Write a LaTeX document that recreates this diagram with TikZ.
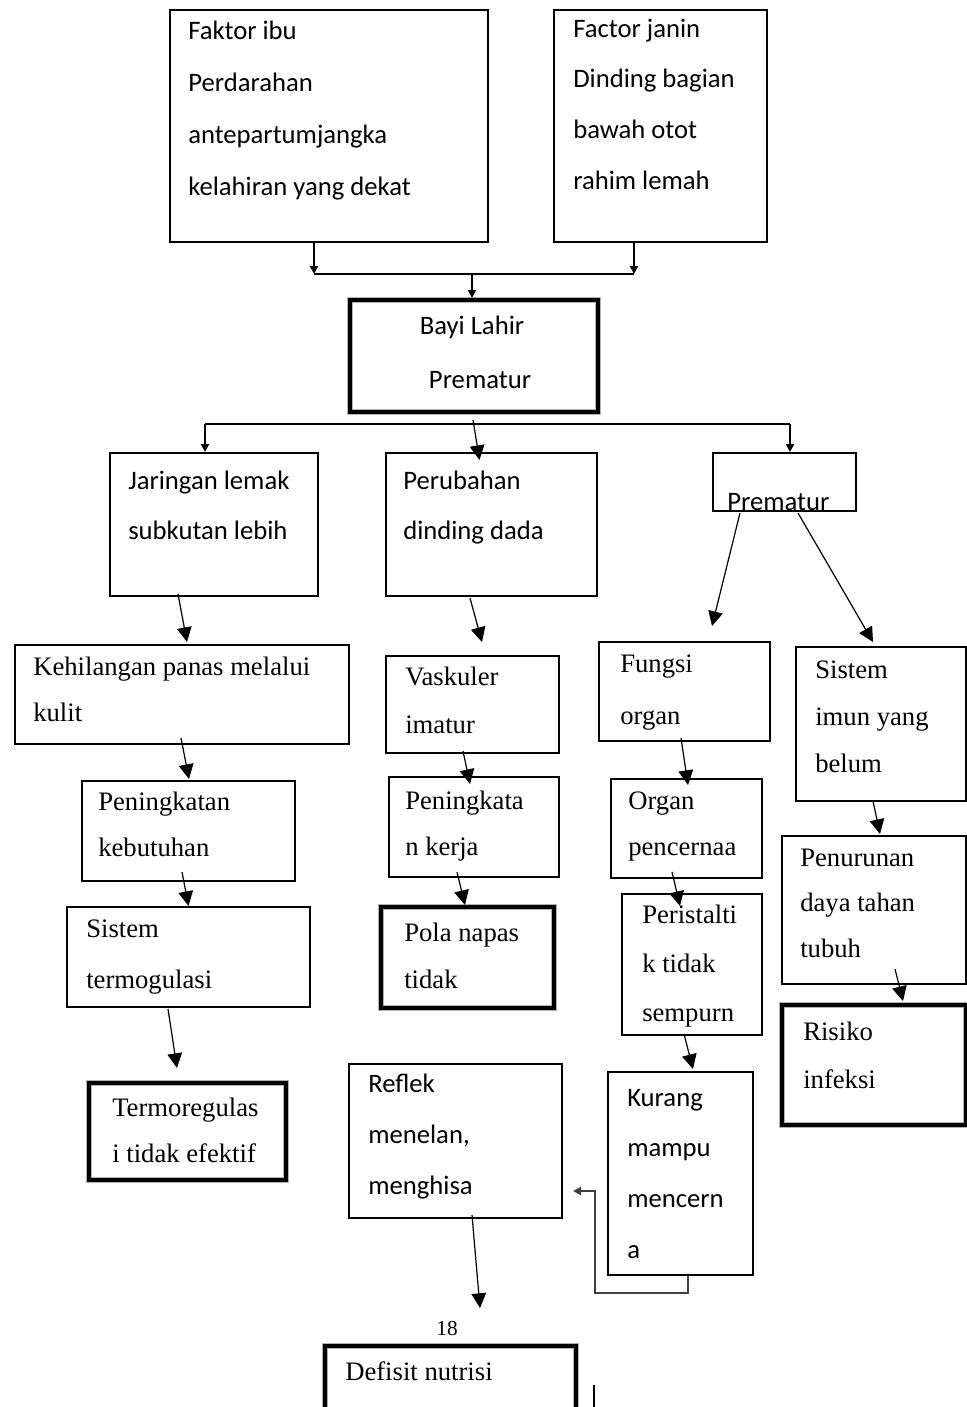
\documentclass[tikz,border=0pt]{standalone}
\usepackage{fontspec}
\setmainfont{Liberation Serif}
\setsansfont{Carlito}
\usetikzlibrary{arrows.meta, calc}
\newcommand{\jarak}[1]{\fontsize{20}{#1}\selectfont}
\tikzset{
  ukuran/.style 2 args={minimum width=#1*0.75pt, minimum height=#2*0.75pt},
  kotak/.style={draw, line width=1.5pt, inner sep=0pt},
  kotaktebal/.style={draw, line width=3pt, inner sep=0pt, preaction={draw=black!30, line width=5pt}},
  tulis/.style={anchor=base west, align=left, inner sep=0pt},
  sans/.style={tulis, font=\sffamily\jarak{38}},
  serif/.style={tulis, font=\rmfamily\jarak{35}},
  panah/.style={line width=0.9pt, -{Triangle[length=11pt,width=11pt]}},
  panahkecil/.style={line width=1.5pt, -{Triangle[length=6pt,width=6pt]}}
}

\begin{document}
\begin{tikzpicture}[x=0.75pt, y=-0.75pt]
\useasboundingbox (0,0) rectangle (967,1407);
\clip (0,0) rectangle (967,1407);

% kotak
\node[kotak, ukuran={318}{232}] (ibu) at (329,126) {};
\node[kotak, ukuran={213}{232}] (janin) at (660.5,126) {};
\node[kotaktebal, ukuran={248}{112}] (bayi) at (474,356) {};
\node[kotak, ukuran={208}{143}] (jaringan) at (214,524.5) {};
\node[kotak, ukuran={211}{143}] (perubahan) at (491.5,524.5) {};
\node[kotak, ukuran={143}{58}] (prem) at (784.5,482) {};
\node[kotak, ukuran={334}{99}] (kehilangan) at (182,694.5) {};
\node[kotak, ukuran={173}{97}] (vaskuler) at (472.5,704.5) {};
\node[kotak, ukuran={171}{99}] (fungsi) at (684.5,691.5) {};
\node[kotak, ukuran={170}{154}] (imun) at (881,724) {};
\node[kotak, ukuran={213}{100}] (kebutuhan) at (188.5,831) {};
\node[kotak, ukuran={170}{100}] (kerja) at (474,827) {};
\node[kotak, ukuran={151}{99}] (organ) at (686.5,828.5) {};
\node[kotak, ukuran={184}{148}] (turun) at (874,910) {};
\node[kotak, ukuran={243}{100}] (termo) at (188.5,957) {};
\node[kotaktebal, ukuran={173}{101}] (pola) at (467.5,957.5) {};
\node[kotak, ukuran={140}{141}] (peris) at (692,964.5) {};
\node[kotaktebal, ukuran={184}{120}] (risiko) at (874,1065) {};
\node[kotaktebal, ukuran={197}{97}] (efektif) at (187.5,1131.5) {};
\node[kotak, ukuran={213}{154}] (reflek) at (455.5,1141) {};
\node[kotak, ukuran={145}{203}] (kurang) at (680.5,1173.5) {};
\node[kotaktebal, ukuran={251}{74}] (defisit) at (450.5,1383) {};

% isi (base = baris terakhir)
\node[sans, font=\sffamily\jarak{39}] (ibuteks) at (188,195) {Faktor ibu\\Perdarahan\\antepartumjangka\\kelahiran yang dekat};
\node[sans] (janinteks) at (573,189) {Factor janin\\Dinding bagian\\bawah otot\\rahim lemah};
\node[sans, anchor=base, align=center, font=\sffamily\jarak{40.5}] (bayiteks) at (472,388) {Bayi Lahir\\\hspace*{12pt}Prematur};
\node[sans, font=\sffamily\jarak{37.5}] (jaringanteks) at (128,539) {Jaringan lemak\\subkutan lebih};
\node[sans, font=\sffamily\jarak{37.5}] (perubahanteks) at (403,539) {Perubahan\\dinding dada};
\node[sans] (premteks) at (727,510) {Prematur};
\node[serif, font=\rmfamily\jarak{34}] (kehilanganteks) at (33,721) {Kehilangan panas melalui\\kulit};
\node[serif, font=\rmfamily\jarak{36}] (vaskulerteks) at (405,733) {Vaskuler\\imatur};
\node[serif, font=\rmfamily\jarak{39}] (fungsiteks) at (620,724) {Fungsi\\organ};
\node[serif] (imunteks) at (815,772) {Sistem\\imun yang\\belum};
\node[serif, font=\rmfamily\jarak{34}] (kebutuhanteks) at (98,856) {Peningkatan\\kebutuhan};
\node[serif, font=\rmfamily\jarak{34.5}] (kerjateks) at (405,855) {Peningkata\\n kerja};
\node[serif, font=\rmfamily\jarak{34.5}] (organteks) at (628,855) {Organ\\pencernaa};
\node[serif, font=\rmfamily\jarak{34}] (turunteks) at (800,957) {Penurunan\\daya tahan\\tubuh};
\node[serif, font=\rmfamily\jarak{38}] (termoteks) at (86,988) {Sistem\\termogulasi};
\node[serif] (polateks) at (404,988) {Pola napas\\tidak};
\node[serif, font=\rmfamily\jarak{36.5}] (peristeks) at (642,1021) {Peristalti\\k tidak\\sempurn};
\node[serif, font=\rmfamily\jarak{36}] (risikoteks) at (803,1088) {Risiko\\infeksi};
\node[serif, font=\rmfamily\jarak{34}] (efektifteks) at (112,1162) {Termoregulas\\i tidak efektif};
\node[sans] (reflekteks) at (368,1194) {Reflek\\menelan,\\menghisa};
\node[sans] (kurangteks) at (627,1258) {Kurang\\mampu\\mencern\\a};
\node[serif] (defisitteks) at (345,1380) {Defisit nutrisi};
\node[font=\rmfamily\fontsize{16}{16}\selectfont, inner sep=0pt] (halaman) at (447,1328) {18};

% sambungan atas
\coordinate (kiri) at (314,274);
\coordinate (kanan) at (634,274);
\coordinate (tengah) at (472,274);
\draw[panahkecil] (ibu.south -| kiri) -- (kiri);
\draw[panahkecil] (janin.south -| kanan) -- (kanan);
\draw[line width=1.5pt] (kiri) -- (kanan);
\draw[panahkecil] (tengah) -- (tengah |- bayi.north);

\coordinate (cabkiri) at (205,424);
\coordinate (cabkanan) at (790,424);
\draw[line width=1.5pt] (cabkiri) -- (cabkanan);
\draw[panahkecil] (cabkiri) -- (cabkiri |- jaringan.north);
\draw[panahkecil] (cabkanan) -- (cabkanan |- prem.north);
\draw[panah] ($(bayi.south)+(-1,6)$) -- ($(perubahan.north)+(-12,8)$);

% kolom kiri
\draw[panah] ($(jaringan.south)+(-36,-3)$) -- ($(kehilangan.north)+(5,-2)$);
\draw[panah] ($(kehilangan.south)+(-1,-7)$) -- ($(kebutuhan.north)+(0.5,-1)$);
\draw[panah] ($(kebutuhan.south)+(-6.5,-10)$) -- (termo.north);
\draw[panah] ($(termo.south)+(-20.5,1)$) -- ($(efektif.north)+(-10.5,-13)$);

% kolom tengah
\draw[panah] ($(perubahan.south)+(-21.5,1)$) -- ($(vaskuler.north)+(9.5,-13)$);
\draw[panah] ($(vaskuler.south)+(-9.5,-3)$) -- ($(kerja.north)+(-4,8)$);
\draw[panah] ($(kerja.south)+(-17,-6)$) -- ($(pola.north)+(-2.5,0)$);

% kolom kanan
\draw[panah] ($(prem.south)+(-44.5,1)$) -- ($(fungsi.north)+(27.5,-15)$);
\draw[panah] ($(prem.south)+(13.5,1)$) -- ($(imun.north)+(-8,-4)$);
\draw[panah] ($(fungsi.south)+(-3.5,-4)$) -- ($(organ.north)+(1.5,7)$);
\draw[panah] ($(organ.south)+(-14.5,-7)$) -- ($(peris.north)+(-12,13)$);
\draw[panah] ($(peris.south)+(-8,-2)$) -- ($(kurang.north)+(12.5,-2)$);
\draw[panah] ($(imun.south)+(-8,-1)$) -- ($(turun.north)+(6,-1)$);
\draw[panah] ($(turun.south)+(21,-16)$) -- ($(risiko.north)+(29,-2)$);

% bawah
\draw[panahkecil, draw=black!75] ($(kurang.south)+(7,0)$) -- ++(0,17) -| ($(reflek.east)+(32,50)$) -- ($(reflek.east)+(10,50)$);
\draw[panah] ($(reflek.south)+(16.5,-4)$) -- ($(defisit.north)+(29.5,-36)$);
\draw[line width=1pt] (594,1385) -- (594,1410);
\end{tikzpicture}
\end{document}
